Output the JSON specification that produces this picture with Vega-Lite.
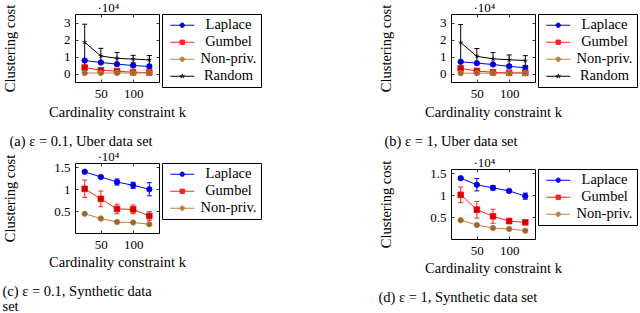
{
  "$schema": "https://vega.github.io/schema/vega-lite/v6.json",
  "padding": {"left": 2, "top": 0, "right": 0, "bottom": 0},
  "datasets": {
    "a": [
      {"series": "Laplace", "k": 25, "v": 0.76, "lo": 0.71, "hi": 0.81},
      {"series": "Laplace", "k": 50, "v": 0.65, "lo": 0.61, "hi": 0.69},
      {"series": "Laplace", "k": 75, "v": 0.55, "lo": 0.51, "hi": 0.59},
      {"series": "Laplace", "k": 100, "v": 0.47, "lo": 0.43, "hi": 0.51},
      {"series": "Laplace", "k": 125, "v": 0.41, "lo": 0.37, "hi": 0.45},
      {"series": "Gumbel", "k": 25, "v": 0.35, "lo": 0.22, "hi": 0.48},
      {"series": "Gumbel", "k": 50, "v": 0.19, "lo": 0.13, "hi": 0.25},
      {"series": "Gumbel", "k": 75, "v": 0.14, "lo": 0.09, "hi": 0.19},
      {"series": "Gumbel", "k": 100, "v": 0.07, "lo": 0.04, "hi": 0.1},
      {"series": "Gumbel", "k": 125, "v": 0.06, "lo": 0.03, "hi": 0.09},
      {"series": "Non-priv.", "k": 25, "v": 0.03, "lo": 0.02, "hi": 0.04},
      {"series": "Non-priv.", "k": 50, "v": 0.03, "lo": 0.02, "hi": 0.04},
      {"series": "Non-priv.", "k": 75, "v": 0.03, "lo": 0.02, "hi": 0.04},
      {"series": "Non-priv.", "k": 100, "v": 0.03, "lo": 0.02, "hi": 0.04},
      {"series": "Non-priv.", "k": 125, "v": 0.03, "lo": 0.02, "hi": 0.04},
      {"series": "Random", "k": 25, "v": 1.84, "lo": 0.4, "hi": 2.9},
      {"series": "Random", "k": 50, "v": 1.03, "lo": 0.58, "hi": 1.48},
      {"series": "Random", "k": 75, "v": 0.89, "lo": 0.54, "hi": 1.24},
      {"series": "Random", "k": 100, "v": 0.85, "lo": 0.63, "hi": 1.07},
      {"series": "Random", "k": 125, "v": 0.8, "lo": 0.54, "hi": 1.06}
    ],
    "b": [
      {"series": "Laplace", "k": 25, "v": 0.69, "lo": 0.65, "hi": 0.73},
      {"series": "Laplace", "k": 50, "v": 0.61, "lo": 0.57, "hi": 0.65},
      {"series": "Laplace", "k": 75, "v": 0.53, "lo": 0.49, "hi": 0.57},
      {"series": "Laplace", "k": 100, "v": 0.42, "lo": 0.38, "hi": 0.46},
      {"series": "Laplace", "k": 125, "v": 0.34, "lo": 0.3, "hi": 0.38},
      {"series": "Gumbel", "k": 25, "v": 0.3, "lo": 0.2, "hi": 0.4},
      {"series": "Gumbel", "k": 50, "v": 0.15, "lo": 0.1, "hi": 0.2},
      {"series": "Gumbel", "k": 75, "v": 0.07, "lo": 0.04, "hi": 0.1},
      {"series": "Gumbel", "k": 100, "v": 0.04, "lo": 0.02, "hi": 0.06},
      {"series": "Gumbel", "k": 125, "v": 0.04, "lo": 0.02, "hi": 0.06},
      {"series": "Non-priv.", "k": 25, "v": 0.02, "lo": 0.01, "hi": 0.03},
      {"series": "Non-priv.", "k": 50, "v": 0.02, "lo": 0.01, "hi": 0.03},
      {"series": "Non-priv.", "k": 75, "v": 0.02, "lo": 0.01, "hi": 0.03},
      {"series": "Non-priv.", "k": 100, "v": 0.02, "lo": 0.01, "hi": 0.03},
      {"series": "Non-priv.", "k": 125, "v": 0.02, "lo": 0.01, "hi": 0.03},
      {"series": "Random", "k": 25, "v": 1.82, "lo": 0.4, "hi": 2.88},
      {"series": "Random", "k": 50, "v": 1.01, "lo": 0.55, "hi": 1.47},
      {"series": "Random", "k": 75, "v": 0.86, "lo": 0.5, "hi": 1.23},
      {"series": "Random", "k": 100, "v": 0.81, "lo": 0.53, "hi": 1.09},
      {"series": "Random", "k": 125, "v": 0.76, "lo": 0.47, "hi": 1.05}
    ],
    "c": [
      {"series": "Laplace", "k": 25, "v": 1.4, "lo": 1.38, "hi": 1.42},
      {"series": "Laplace", "k": 50, "v": 1.28, "lo": 1.26, "hi": 1.3},
      {"series": "Laplace", "k": 75, "v": 1.165, "lo": 1.095, "hi": 1.235},
      {"series": "Laplace", "k": 100, "v": 1.09, "lo": 1.02, "hi": 1.16},
      {"series": "Laplace", "k": 125, "v": 1.0, "lo": 0.85, "hi": 1.15},
      {"series": "Gumbel", "k": 25, "v": 1.01, "lo": 0.81, "hi": 1.21},
      {"series": "Gumbel", "k": 50, "v": 0.78, "lo": 0.6, "hi": 0.96},
      {"series": "Gumbel", "k": 75, "v": 0.55, "lo": 0.44, "hi": 0.66},
      {"series": "Gumbel", "k": 100, "v": 0.54, "lo": 0.44, "hi": 0.64},
      {"series": "Gumbel", "k": 125, "v": 0.39, "lo": 0.29, "hi": 0.49},
      {"series": "Non-priv.", "k": 25, "v": 0.44, "lo": 0.43, "hi": 0.45},
      {"series": "Non-priv.", "k": 50, "v": 0.33, "lo": 0.32, "hi": 0.34},
      {"series": "Non-priv.", "k": 75, "v": 0.25, "lo": 0.24, "hi": 0.26},
      {"series": "Non-priv.", "k": 100, "v": 0.24, "lo": 0.23, "hi": 0.25},
      {"series": "Non-priv.", "k": 125, "v": 0.2, "lo": 0.19, "hi": 0.21}
    ],
    "d": [
      {"series": "Laplace", "k": 25, "v": 1.39, "lo": 1.37, "hi": 1.41},
      {"series": "Laplace", "k": 50, "v": 1.24, "lo": 1.1, "hi": 1.38},
      {"series": "Laplace", "k": 75, "v": 1.17, "lo": 1.12, "hi": 1.22},
      {"series": "Laplace", "k": 100, "v": 1.1, "lo": 1.07, "hi": 1.13},
      {"series": "Laplace", "k": 125, "v": 0.98, "lo": 0.91, "hi": 1.05},
      {"series": "Gumbel", "k": 25, "v": 1.01, "lo": 0.83, "hi": 1.19},
      {"series": "Gumbel", "k": 50, "v": 0.67, "lo": 0.48, "hi": 0.86},
      {"series": "Gumbel", "k": 75, "v": 0.52, "lo": 0.36, "hi": 0.68},
      {"series": "Gumbel", "k": 100, "v": 0.41, "lo": 0.36, "hi": 0.46},
      {"series": "Gumbel", "k": 125, "v": 0.38, "lo": 0.35, "hi": 0.41},
      {"series": "Non-priv.", "k": 25, "v": 0.43, "lo": 0.42, "hi": 0.44},
      {"series": "Non-priv.", "k": 50, "v": 0.32, "lo": 0.31, "hi": 0.33},
      {"series": "Non-priv.", "k": 75, "v": 0.25, "lo": 0.24, "hi": 0.26},
      {"series": "Non-priv.", "k": 100, "v": 0.23, "lo": 0.22, "hi": 0.24},
      {"series": "Non-priv.", "k": 125, "v": 0.19, "lo": 0.18, "hi": 0.2}
    ]
  },
  "config": {
    "font": "Liberation Serif",
    "view": {"stroke": "black", "strokeWidth": 1},
    "axis": {
      "labelFont": "Liberation Serif", "labelFontSize": 13, "labelColor": "black",
      "titleFont": "Liberation Serif", "titleFontSize": 14.5, "titleFontWeight": "normal", "titleColor": "black",
      "domain": false, "grid": false, "tickColor": "black", "tickSize": -3, "tickWidth": 0.8
    },
    "title": {
      "orient": "bottom", "anchor": "start", "frame": "bounds",
      "font": "Liberation Serif", "fontSize": 14.5, "fontWeight": "normal", "color": "black",
      "baseline": "alphabetic", "offset": 16, "lineHeight": 15
    },
    "legend": {
      "orient": "right", "offset": 2, "padding": 4, "strokeColor": "black", "fillColor": "white", "cornerRadius": 0,
      "labelFont": "Liberation Serif", "labelFontSize": 14.5, "labelColor": "black",
      "labelAlign": "center", "labelOffset": 48, "rowPadding": 2, "symbolSize": 36, "symbolStrokeWidth": 1,
      "symbolType": {"expr": "datum.value == 'Gumbel' ? 'M-1,0L7,0M2.28,-0.72L3.72,-0.72L3.72,0.72L2.28,0.72Z' : datum.value == 'Random' ? 'M-1,0L7,0M3,0L3,-0.83M3,0L3.79,-0.26M3,0L3.49,0.67M3,0L2.51,0.67M3,0L2.21,-0.26' : 'M-1,0L7,0M2.27,0A0.73,0.73 0 1,0 3.73,0A0.73,0.73 0 1,0 2.27,0Z'"},
      "symbolFillColor": {"expr": "datum.value == 'Laplace' ? '#0000cc' : datum.value == 'Gumbel' ? '#cc0000' : datum.value == 'Non-priv.' ? '#996633' : '#000000'"}
    }
  },
  "resolve": {"scale": {"color": "independent"}},
  "hconcat": [
    {
      "spacing": 0,
      "resolve": {"scale": {"color": "independent"}},
      "vconcat": [
        {
          "width": 84, "height": 68,
          "data": {"name": "a"},
          "title": {"text": "(a) ε = 0.1, Uber data set", "dx": 7},
          "layer": [
            {"mark": {"type": "line", "strokeWidth": 1},
             "encoding": {
               "x": {"field": "k", "type": "quantitative", "scale": {"domain": [15, 135]}, "axis": {"orient": "bottom", "values": [50, 100], "title": "Cardinality constraint k", "titleY": 34, "titleBaseline": "alphabetic", "labelPadding": 8}},
               "y": {"field": "v", "type": "quantitative", "scale": {"domain": [-0.22, 3.17]}, "axis": {"orient": "left", "values": [0, 1, 2, 3], "title": "Clustering cost", "titleX": -64.5, "titleY": 34, "titleBaseline": "middle", "labelPadding": 8}},
               "color": {"field": "series", "type": "nominal", "scale": {"domain": ["Laplace", "Gumbel", "Non-priv.", "Random"], "range": ["#0000ff", "#ff2020", "#bf8040", "#000000"]}, "legend": {"title": null}}
             }},
            {"mark": {"type": "rule", "strokeWidth": 1},
             "encoding": {"x": {"field": "k", "type": "quantitative", "axis": null}, "y": {"field": "lo", "type": "quantitative", "axis": null}, "y2": {"field": "hi"}, "color": {"field": "series", "type": "nominal"}}},
            {"mark": {"type": "tick", "orient": "horizontal", "size": 5, "thickness": 1, "opacity": 1},
             "encoding": {"x": {"field": "k", "type": "quantitative", "axis": null}, "y": {"field": "lo", "type": "quantitative", "axis": null}, "color": {"field": "series", "type": "nominal"}}},
            {"mark": {"type": "tick", "orient": "horizontal", "size": 5, "thickness": 1, "opacity": 1},
             "encoding": {"x": {"field": "k", "type": "quantitative", "axis": null}, "y": {"field": "hi", "type": "quantitative", "axis": null}, "color": {"field": "series", "type": "nominal"}}},
            {"transform": [{"filter": "datum.series == 'Laplace'"}],
             "mark": {"type": "point", "shape": "circle", "filled": true, "fill": "#0000cc", "stroke": "#0000ff", "size": 30, "strokeWidth": 0.8, "opacity": 1},
             "encoding": {
               "x": {"field": "k", "type": "quantitative", "axis": {"orient": "top", "values": [50, 100], "labels": false, "title": "·10⁴", "titleFontSize": 13, "titleX": 22, "titleY": -3, "titleAlign": "left", "titleBaseline": "alphabetic"}},
               "y": {"field": "v", "type": "quantitative", "axis": {"orient": "right", "values": [0, 1, 2, 3], "labels": false, "title": null}}
             }},
            {"transform": [{"filter": "datum.series == 'Gumbel'"}],
             "mark": {"type": "point", "shape": "square", "filled": true, "fill": "#cc0000", "stroke": "#ff0000", "size": 32, "strokeWidth": 0.8, "opacity": 1},
             "encoding": {"x": {"field": "k", "type": "quantitative", "axis": null}, "y": {"field": "v", "type": "quantitative", "axis": null}}},
            {"transform": [{"filter": "datum.series == 'Non-priv.'"}],
             "mark": {"type": "point", "shape": "circle", "filled": true, "fill": "#996633", "stroke": "#bf8040", "size": 30, "strokeWidth": 0.8, "opacity": 1},
             "encoding": {"x": {"field": "k", "type": "quantitative", "axis": null}, "y": {"field": "v", "type": "quantitative", "axis": null}}},
            {"transform": [{"filter": "datum.series == 'Random'"}],
             "mark": {"type": "point", "shape": "M0,0L0,-1M0,0L0.951,-0.309M0,0L0.588,0.809M0,0L-0.588,0.809M0,0L-0.951,-0.309", "filled": false, "stroke": "#000000", "size": 22, "strokeWidth": 0.8, "opacity": 1},
             "encoding": {"x": {"field": "k", "type": "quantitative", "axis": null}, "y": {"field": "v", "type": "quantitative", "axis": null}}}
          ],
          "resolve": {"axis": {"x": "independent", "y": "independent"}}
        },
        {
          "width": 84, "height": 70,
          "data": {"name": "c"},
          "title": {"text": ["(c)  ε  =  0.1,  Synthetic  data", "set"], "dx": 0},
          "layer": [
            {"mark": {"type": "line", "strokeWidth": 1},
             "encoding": {
               "x": {"field": "k", "type": "quantitative", "scale": {"domain": [15, 135]}, "axis": {"orient": "bottom", "values": [50, 100], "title": "Cardinality constraint k", "titleY": 33, "titleBaseline": "alphabetic", "labelPadding": 8}},
               "y": {"field": "v", "type": "quantitative", "scale": {"domain": [0.07, 1.57]}, "axis": {"orient": "left", "values": [0.5, 1, 1.5], "format": "~g", "title": "Clustering cost", "titleX": -64.5, "titleY": 35, "titleBaseline": "middle", "labelPadding": 8}},
               "color": {"field": "series", "type": "nominal", "scale": {"domain": ["Laplace", "Gumbel", "Non-priv."], "range": ["#0000ff", "#ff2020", "#bf8040"]}, "legend": {"title": null}}
             }},
            {"mark": {"type": "rule", "strokeWidth": 1},
             "encoding": {"x": {"field": "k", "type": "quantitative", "axis": null}, "y": {"field": "lo", "type": "quantitative", "axis": null}, "y2": {"field": "hi"}, "color": {"field": "series", "type": "nominal"}}},
            {"mark": {"type": "tick", "orient": "horizontal", "size": 5, "thickness": 1, "opacity": 1},
             "encoding": {"x": {"field": "k", "type": "quantitative", "axis": null}, "y": {"field": "lo", "type": "quantitative", "axis": null}, "color": {"field": "series", "type": "nominal"}}},
            {"mark": {"type": "tick", "orient": "horizontal", "size": 5, "thickness": 1, "opacity": 1},
             "encoding": {"x": {"field": "k", "type": "quantitative", "axis": null}, "y": {"field": "hi", "type": "quantitative", "axis": null}, "color": {"field": "series", "type": "nominal"}}},
            {"transform": [{"filter": "datum.series == 'Laplace'"}],
             "mark": {"type": "point", "shape": "circle", "filled": true, "fill": "#0000cc", "stroke": "#0000ff", "size": 30, "strokeWidth": 0.8, "opacity": 1},
             "encoding": {
               "x": {"field": "k", "type": "quantitative", "axis": {"orient": "top", "values": [50, 100], "labels": false, "title": "·10⁴", "titleFontSize": 13, "titleX": 22, "titleY": -3, "titleAlign": "left", "titleBaseline": "alphabetic"}},
               "y": {"field": "v", "type": "quantitative", "axis": {"orient": "right", "values": [0.5, 1, 1.5], "labels": false, "title": null}}
             }},
            {"transform": [{"filter": "datum.series == 'Gumbel'"}],
             "mark": {"type": "point", "shape": "square", "filled": true, "fill": "#cc0000", "stroke": "#ff0000", "size": 32, "strokeWidth": 0.8, "opacity": 1},
             "encoding": {"x": {"field": "k", "type": "quantitative", "axis": null}, "y": {"field": "v", "type": "quantitative", "axis": null}}},
            {"transform": [{"filter": "datum.series == 'Non-priv.'"}],
             "mark": {"type": "point", "shape": "circle", "filled": true, "fill": "#996633", "stroke": "#bf8040", "size": 30, "strokeWidth": 0.8, "opacity": 1},
             "encoding": {"x": {"field": "k", "type": "quantitative", "axis": null}, "y": {"field": "v", "type": "quantitative", "axis": null}}}
          ],
          "resolve": {"axis": {"x": "independent", "y": "independent"}}
        }
      ]
    },
    {
      "spacing": 6,
      "resolve": {"scale": {"color": "independent"}},
      "vconcat": [
        {
          "width": 84, "height": 68,
          "data": {"name": "b"},
          "title": {"text": "(b) ε = 1, Uber data set", "dx": 6},
          "layer": [
            {"mark": {"type": "line", "strokeWidth": 1},
             "encoding": {
               "x": {"field": "k", "type": "quantitative", "scale": {"domain": [15, 135]}, "axis": {"orient": "bottom", "values": [50, 100], "title": "Cardinality constraint k", "titleY": 34, "titleBaseline": "alphabetic", "labelPadding": 8}},
               "y": {"field": "v", "type": "quantitative", "scale": {"domain": [-0.22, 3.17]}, "axis": {"orient": "left", "values": [0, 1, 2, 3], "title": "Clustering cost", "titleX": -64.5, "titleY": 34, "titleBaseline": "middle", "labelPadding": 8}},
               "color": {"field": "series", "type": "nominal", "scale": {"domain": ["Laplace", "Gumbel", "Non-priv.", "Random"], "range": ["#0000ff", "#ff2020", "#bf8040", "#000000"]}, "legend": {"title": null}}
             }},
            {"mark": {"type": "rule", "strokeWidth": 1},
             "encoding": {"x": {"field": "k", "type": "quantitative", "axis": null}, "y": {"field": "lo", "type": "quantitative", "axis": null}, "y2": {"field": "hi"}, "color": {"field": "series", "type": "nominal"}}},
            {"mark": {"type": "tick", "orient": "horizontal", "size": 5, "thickness": 1, "opacity": 1},
             "encoding": {"x": {"field": "k", "type": "quantitative", "axis": null}, "y": {"field": "lo", "type": "quantitative", "axis": null}, "color": {"field": "series", "type": "nominal"}}},
            {"mark": {"type": "tick", "orient": "horizontal", "size": 5, "thickness": 1, "opacity": 1},
             "encoding": {"x": {"field": "k", "type": "quantitative", "axis": null}, "y": {"field": "hi", "type": "quantitative", "axis": null}, "color": {"field": "series", "type": "nominal"}}},
            {"transform": [{"filter": "datum.series == 'Laplace'"}],
             "mark": {"type": "point", "shape": "circle", "filled": true, "fill": "#0000cc", "stroke": "#0000ff", "size": 30, "strokeWidth": 0.8, "opacity": 1},
             "encoding": {
               "x": {"field": "k", "type": "quantitative", "axis": {"orient": "top", "values": [50, 100], "labels": false, "title": "·10⁴", "titleFontSize": 13, "titleX": 22, "titleY": -3, "titleAlign": "left", "titleBaseline": "alphabetic"}},
               "y": {"field": "v", "type": "quantitative", "axis": {"orient": "right", "values": [0, 1, 2, 3], "labels": false, "title": null}}
             }},
            {"transform": [{"filter": "datum.series == 'Gumbel'"}],
             "mark": {"type": "point", "shape": "square", "filled": true, "fill": "#cc0000", "stroke": "#ff0000", "size": 32, "strokeWidth": 0.8, "opacity": 1},
             "encoding": {"x": {"field": "k", "type": "quantitative", "axis": null}, "y": {"field": "v", "type": "quantitative", "axis": null}}},
            {"transform": [{"filter": "datum.series == 'Non-priv.'"}],
             "mark": {"type": "point", "shape": "circle", "filled": true, "fill": "#996633", "stroke": "#bf8040", "size": 30, "strokeWidth": 0.8, "opacity": 1},
             "encoding": {"x": {"field": "k", "type": "quantitative", "axis": null}, "y": {"field": "v", "type": "quantitative", "axis": null}}},
            {"transform": [{"filter": "datum.series == 'Random'"}],
             "mark": {"type": "point", "shape": "M0,0L0,-1M0,0L0.951,-0.309M0,0L0.588,0.809M0,0L-0.588,0.809M0,0L-0.951,-0.309", "filled": false, "stroke": "#000000", "size": 22, "strokeWidth": 0.8, "opacity": 1},
             "encoding": {"x": {"field": "k", "type": "quantitative", "axis": null}, "y": {"field": "v", "type": "quantitative", "axis": null}}}
          ],
          "resolve": {"axis": {"x": "independent", "y": "independent"}}
        },
        {
          "width": 84, "height": 70,
          "data": {"name": "d"},
          "title": {"text": "(d) ε = 1, Synthetic data set", "dx": 0},
          "layer": [
            {"mark": {"type": "line", "strokeWidth": 1},
             "encoding": {
               "x": {"field": "k", "type": "quantitative", "scale": {"domain": [15, 135]}, "axis": {"orient": "bottom", "values": [50, 100], "title": "Cardinality constraint k", "titleY": 33, "titleBaseline": "alphabetic", "labelPadding": 8}},
               "y": {"field": "v", "type": "quantitative", "scale": {"domain": [0.07, 1.57]}, "axis": {"orient": "left", "values": [0.5, 1, 1.5], "format": "~g", "title": "Clustering cost", "titleX": -64.5, "titleY": 35, "titleBaseline": "middle", "labelPadding": 8}},
               "color": {"field": "series", "type": "nominal", "scale": {"domain": ["Laplace", "Gumbel", "Non-priv."], "range": ["#0000ff", "#ff2020", "#bf8040"]}, "legend": {"title": null}}
             }},
            {"mark": {"type": "rule", "strokeWidth": 1},
             "encoding": {"x": {"field": "k", "type": "quantitative", "axis": null}, "y": {"field": "lo", "type": "quantitative", "axis": null}, "y2": {"field": "hi"}, "color": {"field": "series", "type": "nominal"}}},
            {"mark": {"type": "tick", "orient": "horizontal", "size": 5, "thickness": 1, "opacity": 1},
             "encoding": {"x": {"field": "k", "type": "quantitative", "axis": null}, "y": {"field": "lo", "type": "quantitative", "axis": null}, "color": {"field": "series", "type": "nominal"}}},
            {"mark": {"type": "tick", "orient": "horizontal", "size": 5, "thickness": 1, "opacity": 1},
             "encoding": {"x": {"field": "k", "type": "quantitative", "axis": null}, "y": {"field": "hi", "type": "quantitative", "axis": null}, "color": {"field": "series", "type": "nominal"}}},
            {"transform": [{"filter": "datum.series == 'Laplace'"}],
             "mark": {"type": "point", "shape": "circle", "filled": true, "fill": "#0000cc", "stroke": "#0000ff", "size": 30, "strokeWidth": 0.8, "opacity": 1},
             "encoding": {
               "x": {"field": "k", "type": "quantitative", "axis": {"orient": "top", "values": [50, 100], "labels": false, "title": "·10⁴", "titleFontSize": 13, "titleX": 22, "titleY": -3, "titleAlign": "left", "titleBaseline": "alphabetic"}},
               "y": {"field": "v", "type": "quantitative", "axis": {"orient": "right", "values": [0.5, 1, 1.5], "labels": false, "title": null}}
             }},
            {"transform": [{"filter": "datum.series == 'Gumbel'"}],
             "mark": {"type": "point", "shape": "square", "filled": true, "fill": "#cc0000", "stroke": "#ff0000", "size": 32, "strokeWidth": 0.8, "opacity": 1},
             "encoding": {"x": {"field": "k", "type": "quantitative", "axis": null}, "y": {"field": "v", "type": "quantitative", "axis": null}}},
            {"transform": [{"filter": "datum.series == 'Non-priv.'"}],
             "mark": {"type": "point", "shape": "circle", "filled": true, "fill": "#996633", "stroke": "#bf8040", "size": 30, "strokeWidth": 0.8, "opacity": 1},
             "encoding": {"x": {"field": "k", "type": "quantitative", "axis": null}, "y": {"field": "v", "type": "quantitative", "axis": null}}}
          ],
          "resolve": {"axis": {"x": "independent", "y": "independent"}}
        }
      ]
    }
  ],
  "spacing": 116
}
